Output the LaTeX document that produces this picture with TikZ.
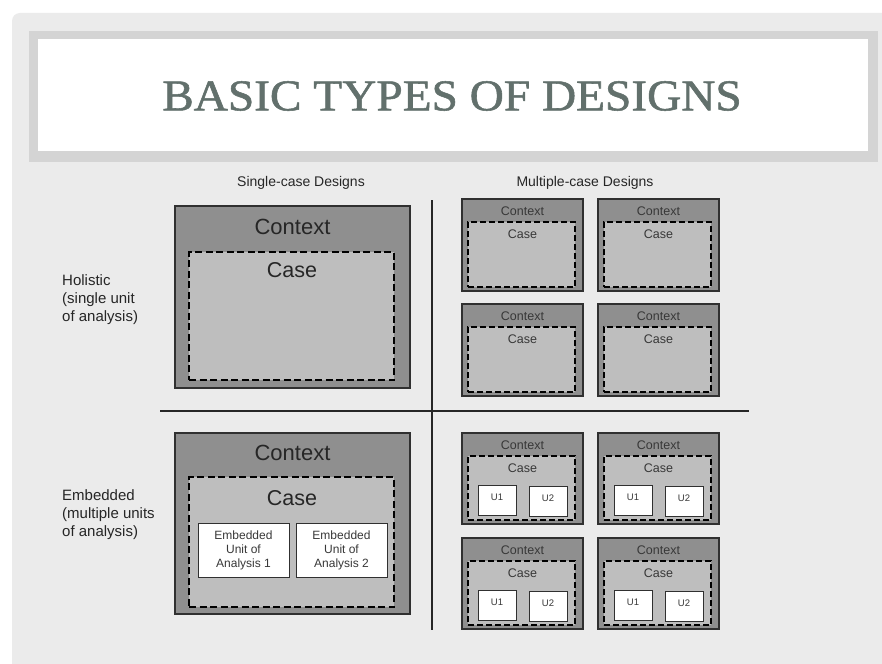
\documentclass[tikz,border=0pt]{standalone}
\usepackage{fontspec}
\setmainfont{Liberation Sans}
\newfontfamily\titlefont[FakeBold=1.2]{Liberation Serif}
\usetikzlibrary{calc}
\definecolor{pagebg}{HTML}{EBEBEB}
\definecolor{bandgray}{HTML}{D4D4D4}
\definecolor{titlecol}{RGB}{98,112,108}
\definecolor{ctxgray}{HTML}{8F8F8F}
\definecolor{casegray}{HTML}{BEBEBE}
\definecolor{edge}{HTML}{303030}
\definecolor{txt}{HTML}{262626}
\definecolor{smalltxt}{HTML}{383838}
\tikzset{
  ctx/.style={draw=edge, fill=ctxgray, line width=1.2pt, inner sep=0pt, outer sep=0pt},
  casebox/.style={draw=black, fill=casegray, line width=1.1pt, dash pattern=on 7pt off 3.5pt, inner sep=0pt, outer sep=0pt},
  smallcase/.style={casebox, dash pattern=on 6pt off 3pt},
  unitbox/.style={draw=edge, fill=white, line width=1pt, inner sep=0pt, outer sep=0pt},
  hdr/.style={font=\fontsize{14}{16}\selectfont, text=txt, inner sep=0pt},
  side/.style={font=\fontsize{15}{18}\selectfont, text=txt, align=left, inner sep=0pt, anchor=west},
  bigctx/.style={font=\fontsize{22}{24}\selectfont, text=txt, inner sep=0pt},
  bigcase/.style={font=\fontsize{21.5}{24}\selectfont, text=txt, inner sep=0pt},
  smallctx/.style={font=\fontsize{12.5}{14}\selectfont, text=smalltxt, inner sep=0pt},
  smallcasetxt/.style={font=\fontsize{12.5}{14}\selectfont, text=smalltxt, inner sep=0pt},
  utxt/.style={font=\fontsize{9.5}{10}\selectfont, text=smalltxt, inner sep=0pt},
  eutxt/.style={font=\fontsize{12}{14}\selectfont, text=smalltxt, align=center, inner sep=0pt},
  divider/.style={draw=black!85, line width=1.2pt}
}
\newcommand\mcasebox[4]{%
  \node[ctx, anchor=north west, minimum width=121pt, minimum height=#4pt] (#1) at (#2,#3) {};
  \node[smallcase, anchor=north west, minimum width=107pt, minimum height={(#4-27)*1pt}] (#1c) at ($(#1.north west)+(6,23)$) {};
  \node[smallctx] (#1ctxt) at ($(#1.north)+(0,12)$) {Context};
  \node[smallcasetxt] (#1ctt) at ($(#1.north)+(0,35)$) {Case};
}
\newcommand\munits[1]{%
  \node[unitbox, anchor=north west, minimum width=38pt, minimum height=30pt] (#1u1) at ($(#1.north west)+(16,52)$) {};
  \node[unitbox, anchor=north west, minimum width=38pt, minimum height=30pt] (#1u2) at ($(#1.north west)+(67,53)$) {};
  \node[utxt] (#1u1t) at ($(#1u1.north)+(0,12)$) {U1};
  \node[utxt] (#1u2t) at ($(#1u2.north)+(0,12)$) {U2};
}
\begin{document}
\begin{tikzpicture}[x=1pt,y=-1pt]
\useasboundingbox (0,0) rectangle (882,663);
\fill[white] (0,0) rectangle (882,663);
\fill[pagebg, rounded corners=8pt] (12,13) rectangle (900,690);
% title band
\fill[bandgray] (29,31) rectangle (878,162);
\fill[white] (38,39) rectangle (868,151);
\node[font=\titlefont\fontsize{44}{50}\selectfont, text=titlecol, inner sep=0pt] (title) at (452,96) {\scalebox{1.075}[1]{BASIC TYPES OF DESIGNS}};
% headers
\node[hdr] (hsingle) at (301,183) {Single-case Designs};
\node[hdr] (hmulti) at (585,183) {Multiple-case Designs};
% side labels
\node[side] (lhol) at (62,300) {Holistic\\(single unit\\of analysis)};
\node[side] (lemb) at (62,515) {Embedded\\(multiple units\\of analysis)};
% dividers
\coordinate (vtop) at (432,200);
\coordinate (vbot) at (432,630);
\coordinate (hleft) at (160,411);
\coordinate (hright) at (749,411);
\draw[divider] (vtop) -- (vbot);
\draw[divider] (hleft) -- (hright);
% single holistic
\node[ctx, anchor=north west, minimum width=235pt, minimum height=182pt] (sh) at (175,206) {};
\node[casebox, anchor=north west, minimum width=205pt, minimum height=128pt] (shc) at (189,252) {};
\node[bigctx] (shctx) at (292.5,227) {Context};
\node[bigcase] (shcase) at (292,270) {Case};
% single embedded
\node[ctx, anchor=north west, minimum width=235pt, minimum height=181pt] (se) at (175,433) {};
\node[casebox, anchor=north west, minimum width=205pt, minimum height=130pt] (sec) at (189,477) {};
\node[bigctx] (sectx) at (292.5,453) {Context};
\node[bigcase] (secase) at (292,498) {Case};
\node[unitbox, anchor=north west, minimum width=91pt, minimum height=54pt] (seu1) at (198,523) {};
\node[unitbox, anchor=north west, minimum width=91pt, minimum height=54pt] (seu2) at (296,523) {};
\node[eutxt] (seu1t) at (seu1) {Embedded\\Unit of\\Analysis 1};
\node[eutxt] (seu2t) at (seu2) {Embedded\\Unit of\\Analysis 2};
% multiple holistic
\mcasebox{mh1}{462}{199}{92}
\mcasebox{mh2}{598}{199}{92}
\mcasebox{mh3}{462}{304}{92}
\mcasebox{mh4}{598}{304}{92}
% multiple embedded
\mcasebox{me1}{462}{433}{91}\munits{me1}
\mcasebox{me2}{598}{433}{91}\munits{me2}
\mcasebox{me3}{462}{538}{91}\munits{me3}
\mcasebox{me4}{598}{538}{91}\munits{me4}
\end{tikzpicture}
\end{document}
